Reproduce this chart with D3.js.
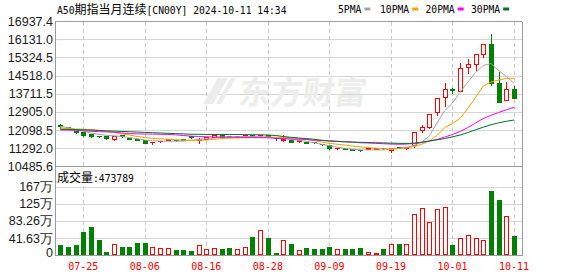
<!DOCTYPE html>
<meta charset="utf-8">
<title>A50期指当月连续</title>
<style>
body { margin: 0; background: #fff; }
svg { display: block; }
.hgrid { stroke: #d6d6d6; shape-rendering: crispEdges; }
.vgrid { stroke: #c8c8c8; stroke-dasharray: 4,3; shape-rendering: crispEdges; }
.frame { stroke: #9a9a9a; fill: none; shape-rendering: crispEdges; }
.ylab { font: 12.5px "Liberation Sans", Arial, sans-serif; fill: #1a1a1a; text-anchor: end; }
.xlab { font: 10px "DejaVu Sans Mono", monospace; fill: #f00; text-anchor: middle; }
.mono { font: 9.7px "DejaVu Sans Mono", monospace; fill: #000; }
.cjk { font: 12px "Noto Sans CJK SC", sans-serif; }
.ma { fill: none; stroke-width: 1; }
</style>
<svg width="578" height="276"></svg>
<script src="https://d3js.org/d3.v7.min.js"></script>
<script>

var dates = ["07-22","07-23","07-24","07-25","07-26","07-29","07-30","07-31",
  "08-01","08-02","08-05","08-06","08-07","08-08","08-09","08-12","08-13","08-14","08-15","08-16",
  "08-19","08-20","08-21","08-22","08-23","08-26","08-27","08-28","08-29","08-30",
  "09-02","09-03","09-04","09-05","09-06","09-09","09-10","09-11","09-12","09-13",
  "09-16","09-17","09-18","09-19","09-20","09-23","09-24","09-25","09-26","09-27","09-30",
  "10-01","10-02","10-03","10-04","10-07","10-08","10-09","10-10","10-11"];

var opens = [12330,12255,12041,11997,11935,11846,11832,11686,11890,11743,11699,11668,11552,11610,11677,11663,11699,11819,11677,11712,
  11788,11863,11841,11819,11863,11899,11863,11877,11765,11641,11677,11610,11565,11583,11490,11432,11285,11303,11254,11218,
  11263,11263,11312,11228,11339,11290,11418,12086,12246,12886,13553,13909,13847,14887,15021,15479,15924,14203,13420,13922];
var highs = [12397,12286,12077,12041,11979,11877,11855,11890,11921,11774,11730,11686,11623,11654,11752,11686,11721,11841,11774,11788,
  11966,11877,11863,11863,11943,11921,11899,11890,11788,11943,11690,11663,11588,11610,11507,11463,11343,11321,11272,11236,
  11299,11307,11330,11356,11361,11377,12041,12366,12842,13509,14220,14025,15137,15288,15465,15910,16426,14736,14291,14100];
var lows = [12210,12179,11979,11819,11788,11788,11712,11668,11801,11686,11641,11521,11499,11565,11641,11619,11654,11765,11534,11699,
  11774,11757,11797,11801,11854,11846,11854,11819,11677,11623,11557,11588,11507,11534,11432,11277,11254,11246,11210,11174,
  11241,11241,11263,11106,11299,11277,11330,12019,12201,12766,13153,13731,13834,14621,14767,15359,14100,13357,13420,13535];
var closes = [12277,12219,12010,11863,11846,11819,11743,11819,11846,11712,11668,11534,11588,11627,11708,11645,11672,11797,11712,11774,
  11863,11774,11819,11846,11886,11863,11886,11841,11730,11699,11579,11637,11525,11561,11459,11312,11307,11268,11227,11196,
  11285,11290,11285,11281,11312,11352,12032,12219,12797,13509,13909,13865,14843,15021,15465,15910,14203,13357,13909,13535];

var volumes = [251000,202000,251000,566000,687000,372000,81000,267000,202000,202000,299000,299000,194000,170000,170000,129000,129000,105000,242000,145000,
  170000,154000,178000,145000,194000,444000,606000,420000,57000,364000,275000,137000,178000,157000,154000,202000,154000,154000,154000,178000,
  81000,57000,154000,275000,275000,275000,1002000,1139000,808000,1123000,1172000,251000,412000,493000,412000,372000,1560000,1341000,954000,473789];

var ma5 = [12255,12210,12121,12046,11966,11908,11863,11841,11810,11765,11712,11654,11623,11610,11601,11601,11610,11645,11677,11721,
  11743,11788,11797,11801,11806,11810,11801,11797,11765,11721,11677,11641,11597,11534,11463,11401,11330,11285,11241,11215,
  11215,11215,11215,11232,11276,11330,11410,11565,11832,12420,12960,13300,13780,14230,14660,14967,15056,14745,14478,14176];
var ma10 = [12188,12161,12144,12135,12121,12086,12032,11992,11930,11877,11810,11765,11730,11708,11686,11668,11654,11641,11641,11654,
  11690,11721,11734,11743,11752,11756,11761,11765,11770,11774,11761,11721,11677,11632,11565,11507,11467,11432,11387,11352,
  11321,11290,11268,11268,11276,11299,11365,11463,11610,11860,12210,12388,12619,13064,13544,14056,14234,14323,14389,14398];
var ma20 = [12099,12095,12086,12068,12046,12024,12015,12006,11966,11943,11930,11921,11917,11912,11903,11886,11854,11828,11810,11797,
  11788,11783,11779,11774,11770,11765,11761,11752,11734,11716,11703,11690,11677,11650,11632,11619,11601,11579,11556,11534,
  11521,11507,11490,11476,11463,11476,11499,11543,11610,11677,11788,11899,12032,12210,12410,12610,12753,12877,12997,13108];
var ma30 = [12130,12126,12117,12108,12095,12077,12064,12050,12037,12024,12010,11992,11979,11966,11952,11939,11926,11912,11908,11903,
  11899,11899,11899,11899,11894,11890,11886,11877,11855,11810,11774,11743,11721,11686,11645,11610,11592,11574,11561,11552,
  11543,11534,11525,11516,11507,11503,11512,11556,11610,11663,11721,11797,11877,11988,12108,12224,12330,12419,12486,12544];

var priceLabels = ["16937.4","16131.0","15324.5","14518.0","13711.5","12905.0","12098.5","11292.0","10485.6"];
var volTickValues = [0, 416300, 832600, 1248900, 1665200];
var volTickLabels = ["0", "41.63万", "83.26万", "125万", "167万"];
var labelDates = ["07-25","08-06","08-16","08-28","09-09","09-19","10-01","10-11"];

var maNames = ["5PMA", "10PMA", "20PMA", "30PMA"];
var maColors = ["#a3a3a3", "#f5a300", "#ff00ff", "#006e2e"];

var up = "#ff0000", down = "#008000";

var svg = d3.select("svg"),
    left = 55, right = 522,
    priceTop = 21.2, priceBottom = 166.3,
    volTop = 186.6, volBottom = 255.3;

var x = d3.scalePoint().domain(dates).range([60.2, 514]);
var y = d3.scaleLinear().domain([10485.6, 16937.4]).range([priceBottom, priceTop]);
var yv = d3.scaleLinear().domain([0, 1665200]).range([volBottom, volTop]);

function px(v) { return Math.round(v) + 0.5; }

// grid
var g = svg.append("g");
g.selectAll(".hp").data(priceLabels.slice(1, -1)).enter().append("line")
    .attr("class", "hgrid")
    .attr("x1", left).attr("x2", right)
    .attr("y1", function(d) { return px(y(+d)); })
    .attr("y2", function(d) { return px(y(+d)); });
g.selectAll(".hv").data(volTickValues.slice(1)).enter().append("line")
    .attr("class", "hgrid")
    .attr("x1", left).attr("x2", right)
    .attr("y1", function(d) { return px(yv(d)); })
    .attr("y2", function(d) { return px(yv(d)); });
labelDates.forEach(function(d) {
  var xx = px(x(d));
  g.append("line").attr("class", "vgrid").attr("x1", xx).attr("x2", xx).attr("y1", priceTop + 1).attr("y2", priceBottom);
  g.append("line").attr("class", "vgrid").attr("x1", xx).attr("x2", xx).attr("y1", 172).attr("y2", volBottom);
});

// watermark
var wm = svg.append("g").attr("fill", "#ececec");
wm.append("path").attr("d", "M203,104 L218,78 L228,78 L213,104 Z M216,104 L231,78 L236,78 L221,104 Z");
wm.append("text").attr("x", 238).attr("y", 104)
    .style("font", "bold 32px 'Noto Sans CJK SC', sans-serif")
    .attr("transform", "skewX(-8) translate(14,0)")
    .text("东方财富");

// frame
svg.append("line").attr("class", "frame").attr("x1", left).attr("x2", right).attr("y1", px(priceTop)).attr("y2", px(priceTop));
svg.append("line").attr("class", "frame").attr("x1", left).attr("x2", right).attr("y1", px(priceBottom)).attr("y2", px(priceBottom));
svg.append("line").attr("class", "frame").attr("x1", left).attr("x2", right).attr("y1", px(volBottom)).attr("y2", px(volBottom));
svg.append("line").attr("class", "frame").attr("x1", left + 0.5).attr("x2", left + 0.5).attr("y1", px(priceTop)).attr("y2", px(volBottom));
svg.append("line").attr("class", "frame").attr("x1", right + 0.5).attr("x2", right + 0.5).attr("y1", px(priceTop)).attr("y2", px(volBottom));

// axis labels
svg.selectAll(".pl").data(priceLabels).enter().append("text")
    .attr("class", "ylab")
    .attr("x", 53)
    .attr("y", function(d) { return y(+d) + 4.5; })
    .text(function(d) { return d; });
svg.selectAll(".vl").data(volTickValues).enter().append("text")
    .attr("class", "ylab")
    .attr("x", 53)
    .attr("y", function(d, i) { return yv(d) + (i === 0 ? 2 : 4.5); })
    .text(function(d, i) { return volTickLabels[i]; });
svg.selectAll(".xl").data(labelDates).enter().append("text")
    .attr("class", "xlab")
    .attr("x", function(d) { return x(d); })
    .attr("y", 270)
    .text(function(d) { return d; });

// candles
var data = dates.map(function(d, i) {
  return {d: d, o: opens[i], h: highs[i], l: lows[i], c: closes[i], v: volumes[i]};
});
var cg = svg.append("g").style("shape-rendering", "crispEdges");
data.forEach(function(b) {
  var cx = px(x(b.d)), xl = Math.round(x(b.d)) - 2;
  var isUp = b.c > b.o, col = isUp ? up : down;
  var top = px(y(Math.max(b.o, b.c))), bot = px(y(Math.min(b.o, b.c)));
  var yh = px(y(b.h)), yl = px(y(b.l));
  if (isUp) {
    if (yh < top) cg.append("line").attr("x1", cx).attr("x2", cx).attr("y1", yh).attr("y2", top).attr("stroke", col);
    if (yl > bot) cg.append("line").attr("x1", cx).attr("x2", cx).attr("y1", bot).attr("y2", yl).attr("stroke", col);
    if (bot - top < 1) {
      cg.append("line").attr("x1", xl).attr("x2", xl + 5).attr("y1", top).attr("y2", top).attr("stroke", col);
    } else {
      cg.append("rect").attr("x", xl + 0.5).attr("y", top).attr("width", 4).attr("height", bot - top)
          .attr("fill", "#fff").attr("stroke", col);
    }
  } else {
    cg.append("line").attr("x1", cx).attr("x2", cx).attr("y1", yh).attr("y2", yl).attr("stroke", col);
    cg.append("rect").attr("x", xl).attr("y", top - 0.5).attr("width", 5).attr("height", Math.max(bot - top, 0) + 1)
        .attr("fill", col);
  }
  // volume
  var vt = px(yv(b.v)), vb = Math.round(volBottom);
  if (isUp) {
    cg.append("rect").attr("x", xl + 0.5).attr("y", vt).attr("width", 4).attr("height", Math.max(vb - vt - 0.5, 0))
        .attr("fill", "#fff").attr("stroke", col);
  } else {
    cg.append("rect").attr("x", xl).attr("y", vt - 0.5).attr("width", 5).attr("height", vb - vt + 0.5)
        .attr("fill", col);
  }
});

// moving averages
var line = d3.line()
    .x(function(d, i) { return x(dates[i]); })
    .y(function(d) { return y(d); });
[ma5, ma10, ma20, ma30].forEach(function(s, k) {
  svg.append("path").attr("class", "ma").attr("d", line(s)).attr("stroke", maColors[k]);
});

// title
var t = svg.append("text").attr("class", "mono").attr("x", 57).attr("y", 13.5);
t.append("tspan").text("A50");
t.append("tspan").attr("class", "cjk").text("期指当月连续");
t.append("tspan").text("[CN00Y] 2024-10-11 14:34");

// legend
var legX = [338, 380, 425.5, 471];
maNames.forEach(function(n, k) {
  var lt = svg.append("text").attr("class", "mono").attr("x", legX[k]).attr("y", 13).text(n);
  var w = lt.node().getComputedTextLength();
  svg.append("rect").attr("x", legX[k] + w + 3).attr("y", 7.5).attr("width", 6).attr("height", 3)
      .attr("fill", maColors[k]);
});

// volume caption
var vc = svg.append("text").attr("class", "mono").attr("x", 57).attr("y", 181.5);
vc.append("tspan").attr("class", "cjk").text("成交量");
vc.append("tspan").text(":" + volumes[volumes.length - 1]);

</script>
